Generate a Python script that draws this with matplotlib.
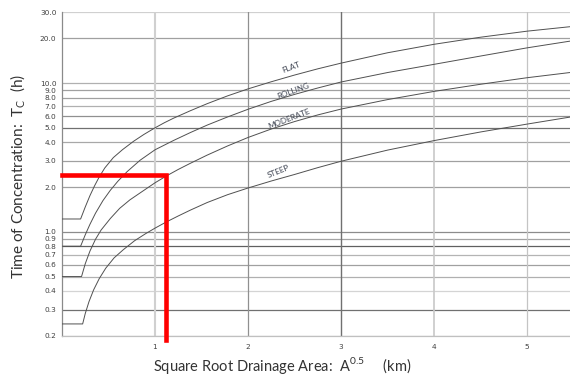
import matplotlib
matplotlib.use("Agg")
import matplotlib.pyplot as plt

plt.rcParams["font.family"] = ["DejaVu Sans"]
plt.rcParams["mathtext.fontset"] = "custom"
plt.rcParams["mathtext.rm"] = "Lato"

# curves: sqrt(drainage area) in km -> Tc in hours
flat_x = [0, 0.2, 0.25, 0.30, 0.35, 0.40, 0.46, 0.552, 0.65, 0.77, 0.88, 1.0, 1.1, 1.2, 1.38, 1.56, 1.78,
          2.0, 2.25, 2.5, 2.75, 3.0, 3.5, 4.0, 4.5, 5.0, 5.46]
flat_y = [1.22, 1.22, 1.47, 1.75, 2.04, 2.34, 2.69, 3.16, 3.57, 4.07, 4.52, 5.01, 5.42, 5.82, 6.53, 7.28, 8.22,
          9.16, 10.23, 11.35, 12.5, 13.65, 16.03, 18.28, 20.4, 22.4, 24.0]

rolling_x = [0, 0.2, 0.25, 0.30, 0.36, 0.44, 0.52, 0.60, 0.70, 0.84, 1.0, 1.2, 1.38, 1.56, 1.78,
             2.0, 2.25, 2.5, 2.75, 3.0, 3.5, 4.0, 4.5, 5.0, 5.46]
rolling_y = [0.8, 0.8, 0.955, 1.122, 1.334, 1.622, 1.905, 2.188, 2.541, 3.034, 3.565, 4.121, 4.656, 5.224, 5.93,
             6.68, 7.55, 8.41, 9.29, 10.19, 11.8, 13.4, 15.24, 17.3, 19.19]

moderate_x = [0, 0.21, 0.25, 0.30, 0.36, 0.42, 0.52, 0.62, 0.73, 0.84, 1.0, 1.125, 1.25, 1.376, 1.556, 1.78,
              2.0, 2.25, 2.5, 2.75, 3.0, 3.5, 4.0, 4.5, 5.0, 5.46]
moderate_y = [0.5, 0.5, 0.61, 0.741, 0.891, 1.028, 1.23, 1.439, 1.641, 1.828, 2.138, 2.382, 2.63, 2.884, 3.273, 3.784,
              4.315, 4.92, 5.52, 6.12, 6.70, 7.76, 8.81, 9.84, 10.89, 11.8]

steep_x = [0, 0.222, 0.25, 0.29, 0.34, 0.40, 0.47, 0.56, 0.66, 0.78, 0.90, 1.0, 1.12, 1.25, 1.38, 1.56, 1.78,
           2.0, 2.25, 2.5, 2.75, 3.0, 3.5, 4.0, 4.5, 5.0, 5.46]
steep_y = [0.24, 0.24, 0.282, 0.339, 0.407, 0.484, 0.569, 0.668, 0.759, 0.871, 0.973, 1.059, 1.164, 1.279, 1.40,
           1.574, 1.778, 1.972, 2.198, 2.432, 2.704, 2.985, 3.548, 4.111, 4.699, 5.309, 5.916]

curve_names = ["FLAT", "ROLLING", "MODERATE", "STEEP"]
name_x = [2.46, 2.49, 2.44, 2.33]
name_y = [12.7, 8.87, 5.81, 2.54]
name_rot = [21, 20, 21, 22]

y_ticks = [0.2, 0.3, 0.4, 0.5, 0.6, 0.7, 0.8, 0.9, 1.0, 2.0, 3.0, 4.0, 5.0, 6.0, 7.0, 8.0, 9.0, 10.0, 20.0, 30.0]
x_ticks = [1, 2, 3, 4, 5]

# worked example (red lines)
example_x = 1.12
example_tc = 2.4

# grid shades, roughly as scanned
hgrid_col = ["#b8b8b8", "#707070", "#d4d4d4", "#b0b0b0", "#a0a0a0", "#b4b4b4", "#606060", "#a4a4a4",
             "#8c8c8c", "#a0a0a0", "#a0a0a0", "#a8a8a8", "#707070", "#909090", "#b0b0b0", "#a0a0a0",
             "#a0a0a0", "#b0b0b0", "#a0a0a0", "#d0d0d0"]
vgrid_col = ["#d0d0d0", "#909090", "#707070", "#c8c8c8", "#c4c4c4"]
vgrid_lw = [1.5, 0.9, 1.0, 1.2, 0.9]

fig = plt.figure(figsize=(5.7, 3.79), dpi=100)
ax = fig.add_axes([62 / 570, 43.3 / 379, 508 / 570, 323.4 / 379])
ax.set_yscale("log")
ax.set_xlim(0, 5.46)
ax.set_ylim(0.2, 30)

for v, c in zip(y_ticks, hgrid_col):
    ax.axhline(v, color=c, lw=0.9, zorder=1)
for v, c, w in zip(x_ticks, vgrid_col, vgrid_lw):
    ax.axvline(v, color=c, lw=w, zorder=1)

for xs, ys in [(flat_x, flat_y), (rolling_x, rolling_y), (moderate_x, moderate_y), (steep_x, steep_y)]:
    ax.plot(xs, ys, color="#505050", lw=0.7, zorder=3)

for name, lx, ly, rot in zip(curve_names, name_x, name_y, name_rot):
    ax.text(lx, ly, name, fontsize=5.8, color="#3c4250", rotation=rot, ha="center", va="center",
            family=["Lato", "DejaVu Sans"], zorder=4)

ax.plot([0, example_x, example_x], [example_tc, example_tc, 0.2 * 0.935], color="#ff0000", lw=3.3,
        solid_joinstyle="miter", clip_on=False, zorder=5)

ax.set_yticks(y_ticks)
ax.set_yticklabels([f"{v:.1f}" for v in y_ticks])
ax.yaxis.set_minor_locator(plt.NullLocator())
ax.set_xticks(x_ticks)
ax.set_xticklabels([str(v) for v in x_ticks])
ax.tick_params(axis="both", length=0, labelsize=5.3, labelcolor="#404040")
ax.tick_params(axis="y", pad=4)
ax.tick_params(axis="x", pad=6)

for s in ["top", "right"]:
    ax.spines[s].set_visible(False)
ax.spines["left"].set_color("#8a8a8a")
ax.spines["left"].set_linewidth(0.9)
ax.spines["bottom"].set_color("#c0c0c0")
ax.spines["bottom"].set_linewidth(0.9)

fig.text(18 / 570, 1 - 176 / 379, r"Time of Concentration:  T$_{\mathrm{C}}$  (h)", rotation=90,
         ha="center", va="center", fontsize=11, color="#333333", family=["Lato", "DejaVu Sans"])
fig.text(282 / 570, 1 - 366 / 379, r"Square Root Drainage Area:  A$^{\mathrm{0.5}}$     (km)",
         ha="center", va="center", fontsize=10.5, color="#333333", family=["Lato", "DejaVu Sans"])

fig.savefig("out.png", dpi=100)
